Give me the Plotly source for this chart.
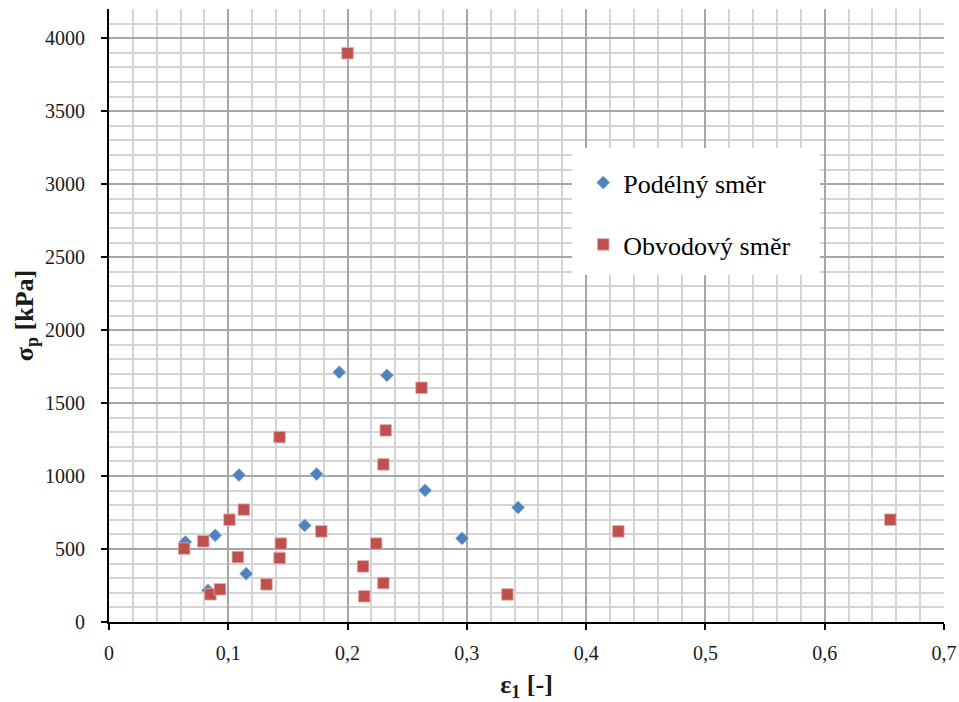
import plotly.graph_objects as go

# Data
pod_x = [0.064, 0.083, 0.089, 0.109, 0.115, 0.164, 0.174, 0.193, 0.233, 0.265, 0.296, 0.343]
pod_y = [548, 217, 594, 1007, 331, 662, 1014, 1712, 1690, 902, 573, 785]

obv_x = [0.063, 0.079, 0.085, 0.093, 0.101, 0.108, 0.113, 0.132, 0.143, 0.144, 0.143,
         0.178, 0.200, 0.213, 0.214, 0.224, 0.230, 0.230, 0.232, 0.262, 0.334, 0.427, 0.655]
obv_y = [503, 553, 190, 224, 701, 445, 770, 258, 1267, 537, 438,
         621, 3897, 381, 176, 537, 267, 1080, 1313, 1605, 189, 621, 701]

x_tickvals = [0, 0.1, 0.2, 0.3, 0.4, 0.5, 0.6, 0.7]
x_ticktext = ["0", "0,1", "0,2", "0,3", "0,4", "0,5", "0,6", "0,7"]
y_tickvals = [0, 500, 1000, 1500, 2000, 2500, 3000, 3500, 4000]

BLUE = "#4F81BD"
RED = "#C0504D"
SERIF = "Liberation Serif, Times New Roman, serif"

fig = go.Figure()
fig.add_trace(go.Scatter(
    x=pod_x, y=pod_y, mode="markers", name="Podélný směr", legendgroup="a",
    marker=dict(symbol="diamond", size=10, color=BLUE, line=dict(width=0.8, color="#8fb0d8")),
))
fig.add_trace(go.Scatter(
    x=obv_x, y=obv_y, mode="markers", name="Obvodový směr", legendgroup="b",
    marker=dict(symbol="square", size=11.5, color=RED, line=dict(width=0.8, color="#e3a9a7")),
))

# white legend box
fig.add_shape(type="rect", xref="paper", yref="paper",
              x0=0.5545, x1=0.8515, y0=0.566, y1=0.7732,
              fillcolor="white", line=dict(width=0), layer="above")

axis_common = dict(
    showline=True, linecolor="black", linewidth=2,
    ticks="outside", ticklen=6, tickwidth=2, tickcolor="black",
    showgrid=True, gridcolor="#a6a6a6", gridwidth=1.5,
    zeroline=False, mirror=False, automargin=False,
    tickfont=dict(family=SERIF, size=20, color="#1a1a1a"),
)

fig.update_xaxes(
    **axis_common,
    range=[0, 0.7], tickvals=x_tickvals, ticktext=x_ticktext,
    minor=dict(dtick=0.02, showgrid=True, gridcolor="#d4d4d4", gridwidth=1.5, ticks=""),
    ticklabelstandoff=6,
    title=dict(text="<b>ε<sub>1</sub> [-]</b>", font=dict(family=SERIF, size=26, color="#1a1a1a"), standoff=14),
)
fig.update_yaxes(
    **axis_common,
    range=[0, 4200], tickvals=y_tickvals,
    minor=dict(dtick=100, showgrid=True, gridcolor="#d4d4d4", gridwidth=1.5, ticks=""),
    ticklabelstandoff=12,
    title=dict(text="<b>σ<sub>p</sub> [kPa]</b>", font=dict(family=SERIF, size=26, color="#1a1a1a"), standoff=4),
)

fig.update_layout(
    width=959, height=702,
    margin=dict(l=109, r=15, t=9, b=80),
    plot_bgcolor="white", paper_bgcolor="white",
    showlegend=True,
    legend=dict(
        x=0.568, y=0.755, xanchor="left", yanchor="top",
        bgcolor="rgba(0,0,0,0)", borderwidth=0,
        font=dict(family=SERIF, size=26, color="black"),
        tracegroupgap=25,
    ),
)

fig.write_html("out.html")
